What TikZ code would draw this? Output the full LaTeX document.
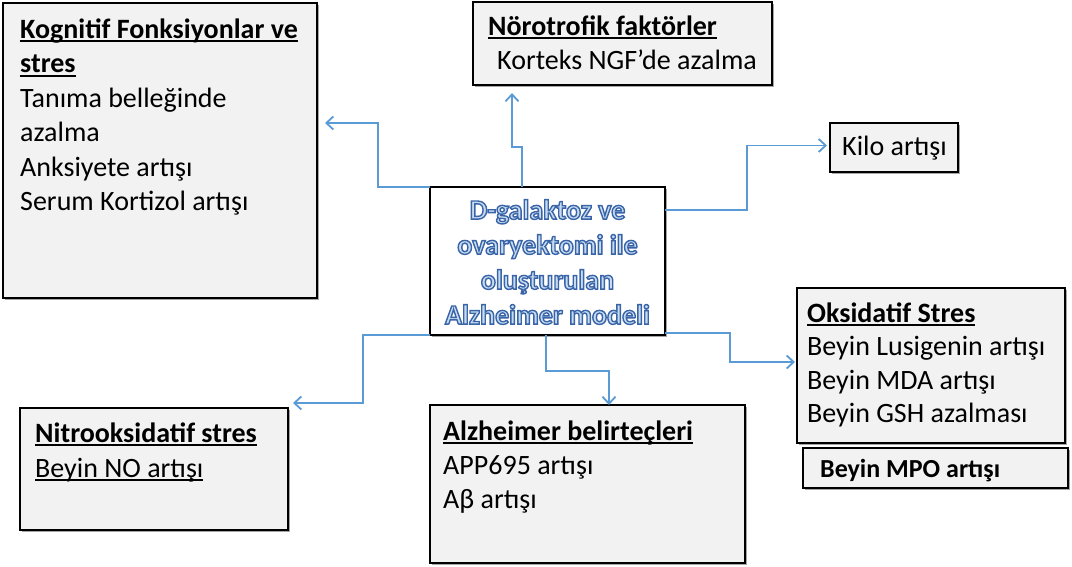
\documentclass[tikz,border=0pt]{standalone}
\usepackage{fontspec}
\setmainfont{Carlito}
\usetikzlibrary{arrows.meta,calc,shadows}

\definecolor{linkblue}{HTML}{5B9BD5}
\definecolor{panelgray}{HTML}{F2F2F2}
\definecolor{glowfill}{HTML}{C6DBF0}

% underlined heading with a rule close to the baseline
\newcommand\hd[1]{\setbox0\hbox{#1}\rlap{\rule[-4pt]{\wd0}{1.8pt}}\box0}
% outlined title text: pale fill, dark blue stroke (text render mode 2)
\newcommand\glow[1]{{\color{glowfill}\special{pdf:literal direct 2 Tr 1.4 w 0.227 0.392 0.659 RG}#1\special{pdf:literal direct 0 Tr}}}

\begin{document}
\begin{tikzpicture}[x=1pt,y=-1pt,
  panel/.style={draw=black, line width=2.6pt, fill=panelgray, anchor=north west,
    inner sep=0pt, outer sep=0pt,
    drop shadow={shadow xshift=1.6pt, shadow yshift=-1.6pt, fill=black!35, opacity=1}},
  body/.style={anchor=north west, inner sep=0pt, align=left, font=\fontsize{28}{34.5}\selectfont},
  conn/.style={draw=linkblue, line width=1.8pt, -{Straight Barb[length=7pt,width=13pt]}}]

\fill[white] (0,0) rectangle (1072,567);
\path[use as bounding box] (0,0) rectangle (1072,567);

% panels
\node[panel, minimum width=314pt, minimum height=295pt] (kog) at (3,3) {};
\node[panel, minimum width=299pt, minimum height=83pt] (nor) at (473,2) {};
\node[panel, minimum width=128pt, minimum height=49pt] (kilo) at (830,123) {};
\node[panel, minimum width=268pt, minimum height=155pt] (oks) at (797,288) {};
\node[panel, minimum width=265pt, minimum height=40pt] (mpo) at (803,448) {};
\node[panel, minimum width=268pt, minimum height=122pt] (nit) at (20,408) {};
\node[panel, minimum width=315pt, minimum height=158pt] (alz) at (430,405) {};
\node[draw=black, line width=2.6pt, fill=white, minimum width=235pt, minimum height=148pt,
  inner sep=0pt, outer sep=0pt,
  drop shadow={shadow xshift=1.6pt, shadow yshift=-1.6pt, fill=black!35, opacity=1}] (c) at (547.5,261) {};

% panel texts
\node[body] (kogtxt) at (20,15) {\rule{0pt}{23pt}\textbf{\hd{Kognitif Fonksiyonlar ve}}\\
  \textbf{\hd{stres}}\\ Tanıma belleğinde\\ azalma\\ Anksiyete artışı\\ Serum Kortizol artışı};
\node[body] (nortxt) at (488,12) {\rule{0pt}{23pt}\textbf{\hd{Nörotrofik faktörler}}\\
  \hspace{9pt}Korteks NGF’de azalma};
\node[body] (kilotxt) at (842,132) {\rule{0pt}{23pt}Kilo artışı};
\node[body, font=\fontsize{28}{33.5}\selectfont] (okstxt) at (807,299) {\rule{0pt}{23pt}\textbf{\hd{Oksidatif Stres}}\\
  Beyin Lusigenin artışı\\ Beyin MDA artışı\\ Beyin GSH azalması};
\node[anchor=base west, inner sep=0pt, font=\bfseries\fontsize{26}{30}\selectfont] (mpotxt) at (820,477) {Beyin MPO artışı};
\node[body, font=\fontsize{28}{35}\selectfont] (nittxt) at (35,419) {\rule{0pt}{23pt}\textbf{\hd{Nitrooksidatif stres}}\\
  \hd{Beyin NO artışı}};
\node[body, font=\fontsize{28}{34}\selectfont] (alztxt) at (443,417) {\rule{0pt}{23pt}\textbf{\hd{Alzheimer belirteçleri}}\\
  APP695 artışı\\ Aβ artışı};

% title
\node[anchor=north, inner sep=0pt, align=center, font=\bfseries\fontsize{28}{35}\selectfont] (ctxt) at (547.5,196)
  {\rule{0pt}{23pt}\glow{D-galaktoz ve}\\ \glow{ovaryektomi ile}\\ \glow{oluşturulan}\\ \glow{Alzheimer modeli}};

% connectors
\draw[conn] (c.north west) -- ++(-52,0) |- ($(kog.north east)+(8,120)$);
\draw[conn] ($(c.north west)+(92,0)$) -- ++(0,-40) -- ++(-10,0) -- ($(nor.south west)+(39,8)$);
\draw[conn] ($(c.north east)+(0,23)$) -- ++(82,0) |- ($(kilo.west)+(-3,-2)$);
\draw[conn] (c.south west) -- ++(-67,0) |- ($(nit.north east)+(5,-5)$);
\draw[conn] ($(c.south west)+(116,0)$) -- ++(0,36) -| ($(alz.north west)+(179,0)$);
\draw[conn] ($(c.south east)+(0,-2)$) -- ++(65,0) |- ($(oks.north west)+(-2,74)$);
\end{tikzpicture}
\end{document}
